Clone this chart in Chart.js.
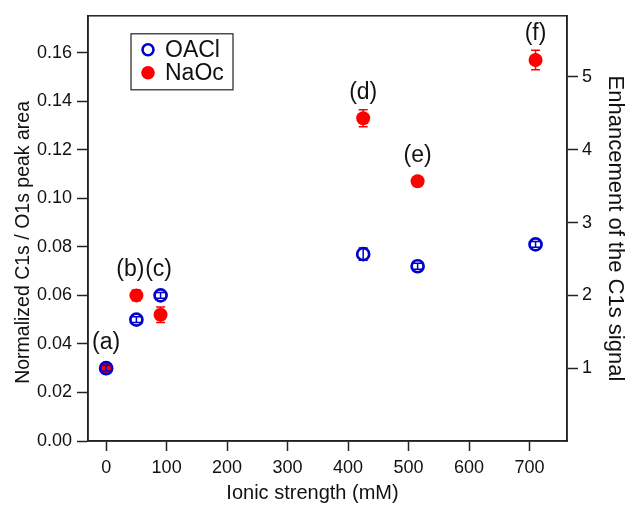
<!DOCTYPE html>
<html>
<head>
<meta charset="utf-8">
<title>C1s / O1s vs ionic strength</title>
<script src="https://cdn.jsdelivr.net/npm/chart.js@4.4.0/dist/chart.umd.min.js"></script>
<style>
  html, body { margin: 0; padding: 0; background: #fff; }
  #wrap { width: 630px; height: 505px; }
</style>
</head>
<body>
<div id="wrap"><canvas id="chart" width="630" height="505"></canvas></div>
<script>
// data
const ionicStrength = [0, 50, 90, 425, 515, 710];
const oaclValues = [0.030, 0.050, 0.060, 0.077, 0.072, 0.081];
const oaclErrors = [0.0012, 0.0012, 0.0012, 0.0025, 0.0012, 0.0012];
const naocValues = [0.030, 0.060, 0.052, 0.133, 0.107, 0.157];
const naocErrors = [0.0012, 0.0022, 0.0032, 0.0035, 0.0008, 0.0040];
const pointLabels = ['(a)', '(b)', '(c)', '(d)', '(e)', '(f)'];
const xTicks = [0, 100, 200, 300, 400, 500, 600, 700];
const yTicks = [0, 0.02, 0.04, 0.06, 0.08, 0.10, 0.12, 0.14, 0.16];
const enhancementTicks = [1, 2, 3, 4, 5];
const referenceRatio = 0.03;   // enhancement = 1 at this ratio

const BLUE = '#0000cc';
const RED = '#ff0000';
const INK = '#222';
const TEXT = '#111';
const FONT = '"Liberation Sans", Arial, Helvetica, sans-serif';

const X_MIN = -30, X_MAX = 762;
const Y_MAX = 0.1752;

// error bars, point labels, legend box, frame and the two offset axis titles
const extrasPlugin = {
    id: 'extras',
    afterDatasetsDraw(chart) {
        const ctx = chart.ctx;
        const area = chart.chartArea;
        const xs = chart.scales.x;
        const ys = chart.scales.y;

        function errorBars(values, errors, color) {
            ctx.save();
            ctx.strokeStyle = color;
            ctx.lineWidth = 1.5;
            values.forEach(function(v, i) {
                const px = xs.getPixelForValue(ionicStrength[i]);
                const top = ys.getPixelForValue(v + errors[i]);
                const bot = ys.getPixelForValue(v - errors[i]);
                ctx.beginPath();
                ctx.moveTo(px, top); ctx.lineTo(px, bot);
                ctx.moveTo(px - 4.5, top); ctx.lineTo(px + 4.5, top);
                ctx.moveTo(px - 4.5, bot); ctx.lineTo(px + 4.5, bot);
                ctx.stroke();
            });
            ctx.restore();
        }
        errorBars(naocValues, naocErrors, RED);
        errorBars(oaclValues, oaclErrors, BLUE);

        // letters above each pair of points
        const shift = [0, -6, -2, 0, 0, 0];
        ctx.save();
        ctx.fillStyle = TEXT;
        ctx.font = '23px ' + FONT;
        ctx.textAlign = 'center';
        ctx.textBaseline = 'middle';
        pointLabels.forEach(function(lbl, i) {
            const top = Math.max(oaclValues[i], naocValues[i]);
            const px = xs.getPixelForValue(ionicStrength[i]) + shift[i];
            const py = ys.getPixelForValue(top) - 26;
            ctx.fillText(lbl, px, py);
        });
        ctx.restore();

        // legend
        const lx = area.left + 43, ly = area.top + 18;
        ctx.save();
        ctx.strokeStyle = INK;
        ctx.lineWidth = 1.2;
        ctx.strokeRect(lx, ly, 102, 56);
        ctx.beginPath();
        ctx.arc(lx + 17, ly + 16, 5.5, 0, Math.PI * 2);
        ctx.strokeStyle = BLUE;
        ctx.lineWidth = 2.6;
        ctx.stroke();
        ctx.beginPath();
        ctx.arc(lx + 17, ly + 39, 6.8, 0, Math.PI * 2);
        ctx.fillStyle = RED;
        ctx.fill();
        ctx.fillStyle = TEXT;
        ctx.font = '23px ' + FONT;
        ctx.textBaseline = 'middle';
        ctx.fillText('OACl', lx + 34, ly + 17);
        ctx.fillText('NaOc', lx + 34, ly + 40);
        ctx.restore();

        // closed frame
        ctx.save();
        ctx.strokeStyle = INK;
        ctx.lineWidth = 1.5;
        ctx.strokeRect(area.left, area.top, area.width, area.height);
        ctx.restore();

        // left and bottom titles sit a little off-centre in the original
        ctx.save();
        ctx.fillStyle = TEXT;
        ctx.textAlign = 'center';
        ctx.textBaseline = 'middle';
        ctx.font = '20px ' + FONT;
        ctx.fillText('Ionic strength (mM)', (area.left + area.right) / 2 - 15, 493);
        ctx.translate(24, (area.top + area.bottom) / 2 + 14);
        ctx.rotate(-Math.PI / 2);
        ctx.font = '19.5px ' + FONT;
        ctx.fillText('Normalized C1s / O1s peak area', 0, 0);
        ctx.restore();
    }
};

function setTicks(list) {
    return function(scale) {
        scale.ticks = list.map(function(v) { return { value: v }; });
    };
}

const ctx = document.getElementById('chart');
new Chart(ctx, {
    type: 'scatter',
    data: {
        datasets: [{
            label: 'OACl',
            data: ionicStrength.map(function(x, i) { return { x: x, y: oaclValues[i] }; }),
            borderColor: BLUE,
            backgroundColor: 'rgba(0,0,0,0)',
            pointRadius: 6,
            pointBorderWidth: 2.7,
            pointHoverRadius: 6
        }, {
            label: 'NaOc',
            data: ionicStrength.map(function(x, i) { return { x: x, y: naocValues[i] }; }),
            borderColor: RED,
            backgroundColor: RED,
            pointRadius: 7,
            pointBorderWidth: 0,
            pointHoverRadius: 7
        }]
    },
    options: {
        responsive: false,
        animation: false,
        layout: { padding: { top: 14, left: 0, right: 0, bottom: 0 } },
        plugins: {
            legend: { display: false },
            tooltip: { enabled: false }
        },
        scales: {
            x: {
                type: 'linear',
                min: X_MIN,
                max: X_MAX,
                afterBuildTicks: setTicks(xTicks),
                afterFit: function(s) { s.height = 64; },
                grid: { drawOnChartArea: false, drawTicks: true, tickLength: 10, color: INK, tickWidth: 1.5 },
                border: { display: true, color: INK, width: 1.5 },
                ticks: { color: TEXT, padding: 6, font: { family: FONT, size: 18 } },
                title: { display: false }
            },
            y: {
                position: 'left',
                min: 0,
                max: Y_MAX,
                afterBuildTicks: setTicks(yTicks),
                afterFit: function(s) { s.width = 88; },
                grid: { drawOnChartArea: false, drawTicks: true, tickLength: 11, color: INK, tickWidth: 1.5 },
                border: { display: true, color: INK, width: 1.5 },
                ticks: {
                    color: TEXT,
                    padding: 5,
                    font: { family: FONT, size: 18 },
                    callback: function(v) { return v.toFixed(2); }
                },
                title: { display: false }
            },
            y2: {
                position: 'right',
                min: 0,
                max: Y_MAX / referenceRatio,
                afterBuildTicks: setTicks(enhancementTicks),
                afterFit: function(s) { s.width = 63; },
                grid: { drawOnChartArea: false, drawTicks: true, tickLength: 11, color: INK, tickWidth: 1.5 },
                border: { display: true, color: INK, width: 1.5 },
                ticks: { color: TEXT, padding: 4, font: { family: FONT, size: 18 } },
                title: {
                    display: true,
                    text: 'Enhancement of the C1s signal',
                    color: TEXT,
                    padding: { top: 2, bottom: 0 },
                    font: { family: FONT, size: 22 }
                }
            }
        }
    },
    plugins: [extrasPlugin]
});
</script>
</body>
</html>
